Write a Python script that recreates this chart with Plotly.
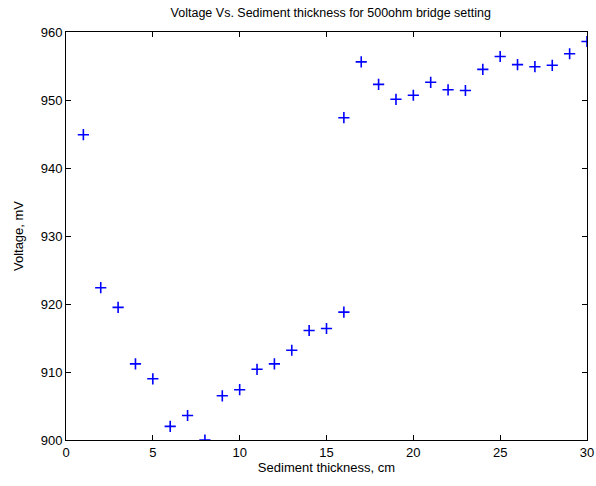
import plotly.graph_objects as go

thickness_cm = list(range(1, 31))
voltage_mv = [944.9, 922.4, 919.5, 911.2, 909.0, 902.0, 903.6, 900.0, 906.5, 907.4,
              910.4, 911.2, 913.2, 916.1, 916.4, 918.8, 955.6, 952.3, 950.1, 950.7,
              952.6, 951.5, 951.4, 954.5, 956.4, 955.2, 954.9, 955.1, 956.8, 958.6]
# x=16 has two readings in the picture
extra_x = [16]
extra_v = [947.4]

x_ticks = [0, 5, 10, 15, 20, 25, 30]
y_ticks = [900, 910, 920, 930, 940, 950, 960]

fig = go.Figure()
fig.add_trace(go.Scatter(
    x=thickness_cm + extra_x, y=voltage_mv + extra_v, mode="markers",
    marker=dict(symbol="cross-thin", size=8, color="rgba(0,0,0,0)",
                line=dict(color="#0000ff", width=1.6)),
    showlegend=False,
))

axis_common = dict(showline=True, linecolor="black", linewidth=1, mirror="ticks",
                   ticks="inside", ticklen=5, tickcolor="black", showgrid=False,
                   zeroline=False, tickfont=dict(size=13, color="black"),
                   automargin=False, ticklabeloverflow="allow")

fig.update_layout(
    width=596, height=486,
    margin=dict(l=66, r=9, t=32, b=46),
    paper_bgcolor="white", plot_bgcolor="white",
    font=dict(family="Liberation Sans, Arial, sans-serif", color="black", size=13),
    title=dict(text="Voltage Vs. Sediment thickness for 500ohm bridge setting",
               x=0.555, xanchor="center", y=0.984, yanchor="top",
               font=dict(size=12.5)),
    xaxis=dict(range=[0, 30], tickvals=x_ticks,
               title=dict(text="Sediment thickness, cm", standoff=4, font=dict(size=13)),
               **axis_common),
    yaxis=dict(range=[900, 960], tickvals=y_ticks,
               title=dict(text="Voltage, mV", standoff=14, font=dict(size=13)),
               **axis_common),
)

fig.write_html("out.html", config={"displayModeBar": False},
               post_script="document.body.style.margin='0';document.body.style.overflow='hidden';")
